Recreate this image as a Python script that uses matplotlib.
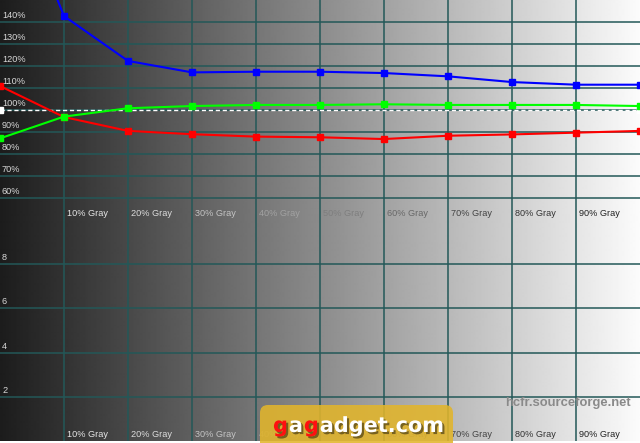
import numpy as np
import matplotlib.pyplot as plt
import matplotlib.patheffects as pe
from matplotlib.patches import FancyBboxPatch

# RGB levels per gray step (in %)
gray_levels = [0, 10, 20, 30, 40, 50, 60, 70, 80, 90, 100]
red_level = [110.9, 96.8, 90.5, 89.0, 87.9, 87.6, 86.8, 88.3, 88.9, 89.7, 90.5]
green_level = [87.1, 97.0, 100.8, 101.8, 102.3, 102.3, 102.6, 102.3, 102.3, 102.3, 101.8]
blue_level = [215.0, 142.7, 122.3, 117.1, 117.4, 117.4, 116.8, 115.3, 112.7, 111.5, 111.5]
ref_x = [0, 100]
ref_y = [100, 100]

step_labels = ['10% Gray', '20% Gray', '30% Gray', '40% Gray', '50% Gray',
               '60% Gray', '70% Gray', '80% Gray', '90% Gray']
step_colors = ['#e6e6e6', '#dcdcdc', '#c4c4c4', '#a2a2a2', '#7e7e7e',
               '#686868', '#444444', '#333333', '#222222']
pct_ticks = [60, 70, 80, 90, 100, 110, 120, 130, 140]
gamma_ticks = [2, 4, 6, 8]

W, H = 640, 443
grid_col = '#235858'
small = dict(family='Liberation Sans', fontsize=6.6)

fig = plt.figure(figsize=(6.4, 4.43), dpi=100, facecolor='white')


def px(x0, y0, w, h):
    # pixel box (top-left origin) -> figure fraction
    return [x0 / W, 1 - (y0 + h) / H, w / W, h / H]


# grayscale background
bg = fig.add_axes(px(0, 0, 640, 441))
bg.imshow(np.linspace(0.11, 0.985, 640)[None, :], cmap='gray', vmin=0, vmax=1,
          aspect='auto', interpolation='bilinear')
bg.axis('off')

top = fig.add_axes(px(0, 0, 640, 220))
bot = fig.add_axes(px(0, 220, 640, 221))

for ax in (top, bot):
    ax.set_facecolor('none')
    ax.set_xlim(0, 100)
    ax.set_xticks(gray_levels[1:-1])
    for s in ax.spines.values():
        s.set_visible(False)
    ax.tick_params(length=0, labelbottom=False, labelleft=False)
    ax.grid(True, color=grid_col, linewidth=1.1)
    for lab, col, lv in zip(step_labels, step_colors, gray_levels[1:]):
        ax.annotate(lab, xy=(lv, 0), xycoords=('data', 'axes fraction'),
                    xytext=(3, 2), textcoords='offset pixels',
                    va='bottom', ha='left', color=col, **small)

top.set_ylim(50, 150)
top.set_yticks(pct_ticks)
bot.set_ylim(0, 10)
bot.set_yticks(gamma_ticks)

for v in pct_ticks:
    top.annotate(f'{v}%', xy=(0, v), xytext=(2, 2), textcoords='offset pixels',
                 va='bottom', ha='left', color='#d8d8d8', **small)
for v in gamma_ticks:
    bot.annotate(f'{v}', xy=(0, v), xytext=(2, 2), textcoords='offset pixels',
                 va='bottom', ha='left', color='#d8d8d8', **small)

# reference 100% line
top.plot(ref_x, ref_y, color='white', lw=1, ls=(0, (3, 2)), marker='s', ms=4,
         mfc='white', mec='white')
top.plot(gray_levels, red_level, color='#ff0000', lw=1.5, marker='s', ms=4.5)
top.plot(gray_levels, green_level, color='#00ff00', lw=1.5, marker='s', ms=4.5)
top.plot(gray_levels, blue_level, color='#0000ff', lw=1.5, marker='s', ms=4.5)

# watermarks
fig.text(505 / W, 1 - 403 / H, 'hcfr.sourceforge.net', family='Liberation Sans',
         fontsize=9.4, weight='bold', color='#8a8a8a', va='center', ha='left')

logo = FancyBboxPatch((2.60, -0.08), 1.93, 0.46, transform=fig.dpi_scale_trans,
                      boxstyle='round,pad=0,rounding_size=0.08',
                      facecolor='#e2b52b', edgecolor='none', alpha=0.88)
fig.add_artist(logo)

renderer = fig.canvas.get_renderer()
x = 273
shadow = [pe.SimplePatchShadow(offset=(1.5, -1.5), shadow_rgbFace='black', alpha=0.45),
          pe.Normal()]
for piece, col in [('g', '#ff1010'), ('a', 'white'), ('g', '#ff1010'), ('adget.com', 'white')]:
    t = fig.text(x / W, 11 / H, piece, family='DejaVu Sans', weight='bold',
                 fontsize=15, color=col, va='baseline', ha='left',
                 path_effects=shadow)
    x += t.get_window_extent(renderer).width + 1

fig.savefig('out.png', dpi=100)
